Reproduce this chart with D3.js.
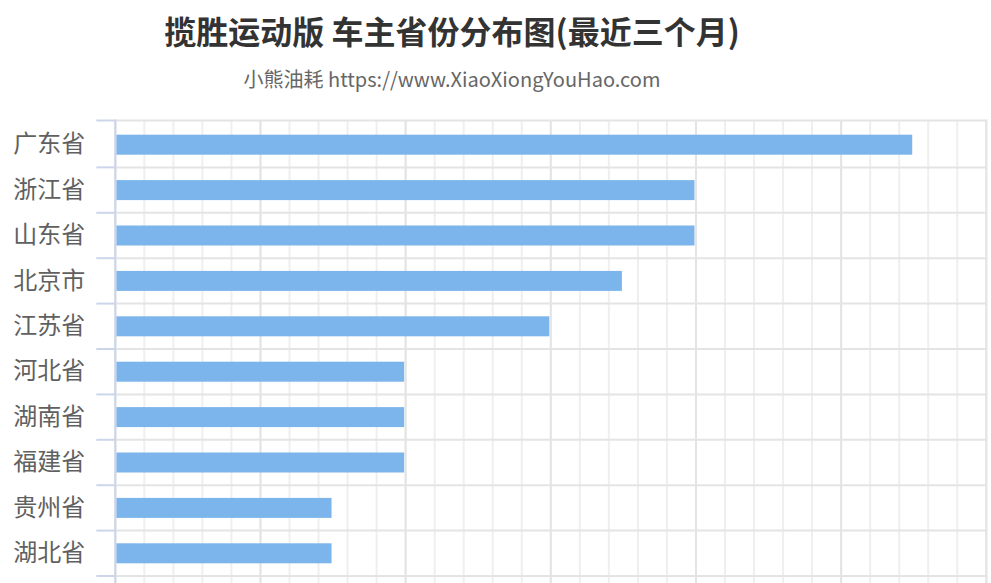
<!DOCTYPE html>
<html lang="zh">
<head>
    <meta charset="UTF-8">
    <title>揽胜运动版 车主省份分布图</title>
    <script src="https://d3js.org/d3.v7.min.js"></script>
    <style>
        body {margin: 0; background: #fff;}
        svg {display: block;}
    </style>
</head>
<body>
    <div id="chart"></div>
<script>
// chart data
var provinces = ["广东省", "浙江省", "山东省", "北京市", "江苏省", "河北省", "湖南省", "福建省", "贵州省", "湖北省"];
var owners = [11, 8, 8, 7, 6, 4, 4, 4, 3, 3];
var valueTicks = [0, 2, 4, 6, 8, 10, 12];

var titleText = "揽胜运动版 车主省份分布图(最近三个月)";
var subtitleText = "小熊油耗 https://www.XiaoXiongYouHao.com";

var width = 991, height = 583;
// note: "top" is taken by window.top, so use plotTop
var plotLeft = 115.3, plotRight = 986.3, plotTop = 122, plotBottom = 576;

var svg = d3.select("#chart").append("svg")
    .attr("width", width)
    .attr("height", height);

// scales
var xScale = d3.scaleLinear()
    .domain([0, 12])
    .range([plotLeft, plotRight]);

var yScale = d3.scaleBand()
    .domain(provinces)
    .range([plotTop, plotBottom])
    .padding(0);

// minor grid lines (5 per major step)
var minorTicks = d3.range(0, 12.001, 0.4);
svg.append("g").selectAll("line")
    .data(minorTicks)
    .enter().append("line")
        .attr("x1", function(d){ return xScale(d); })
        .attr("x2", function(d){ return xScale(d); })
        .attr("y1", 120)
        .attr("y2", height)
        .attr("stroke", "#efefef")
        .attr("stroke-width", 2);

// major grid lines
svg.append("g").selectAll("line")
    .data(valueTicks)
    .enter().append("line")
        .attr("x1", function(d){ return xScale(d); })
        .attr("x2", function(d){ return xScale(d); })
        .attr("y1", 120)
        .attr("y2", height)
        .attr("stroke", "#e4e4e4")
        .attr("stroke-width", 2);

// category boundaries
var bounds = provinces.map(function(p){ return yScale(p); }).concat([plotBottom]);
bounds[0] = 120.5;
svg.append("g").selectAll("line")
    .data(bounds)
    .enter().append("line")
        .attr("x1", plotLeft)
        .attr("x2", plotRight + 1)
        .attr("y1", function(d){ return d; })
        .attr("y2", function(d){ return d; })
        .attr("stroke", "#e4e4e4")
        .attr("stroke-width", 2);

// bars (end just short of the grid line, like the original)
svg.append("g").selectAll("rect")
    .data(owners)
    .enter().append("rect")
        .attr("x", xScale(0) + 1)
        .attr("y", function(d, i){ return yScale(provinces[i]) + yScale.bandwidth() / 2 - 10; })
        .attr("width", function(d){ return xScale(d) - xScale(0) - 2.5; })
        .attr("height", 20)
        .attr("fill", "#7cb5ec");

// category axis
var yAxis = d3.axisLeft(yScale)
    .tickSize(0)
    .tickPadding(30);

var axisG = svg.append("g")
    .attr("transform", "translate(" + plotLeft + ",0)")
    .call(yAxis);

axisG.select(".domain")
    .attr("stroke", "#ccd6eb")
    .attr("stroke-width", 2)
    .attr("d", "M0,119.5V" + height);

axisG.selectAll("text")
    .attr("font-family", "'Noto Sans CJK SC', sans-serif")
    .attr("font-size", "24px")
    .attr("fill", "#606060");

// tick marks on category boundaries
axisG.selectAll(".bound")
    .data(bounds)
    .enter().append("line")
        .attr("class", "bound")
        .attr("x1", -19)
        .attr("x2", 0)
        .attr("y1", function(d){ return d; })
        .attr("y2", function(d){ return d; })
        .attr("stroke", "#ccd6eb")
        .attr("stroke-width", 2);

// titles
svg.append("text")
    .attr("x", 452)
    .attr("y", 44)
    .attr("text-anchor", "middle")
    .attr("font-family", "'Noto Sans CJK SC', sans-serif")
    .attr("font-weight", "bold")
    .attr("font-size", "32px")
    .attr("fill", "#333333")
    .text(titleText);

svg.append("text")
    .attr("x", 452)
    .attr("y", 87)
    .attr("text-anchor", "middle")
    .attr("font-family", "'Noto Sans CJK SC', sans-serif")
    .attr("font-size", "20px")
    .attr("fill", "#666666")
    .text(subtitleText);
</script>
</body>
</html>
